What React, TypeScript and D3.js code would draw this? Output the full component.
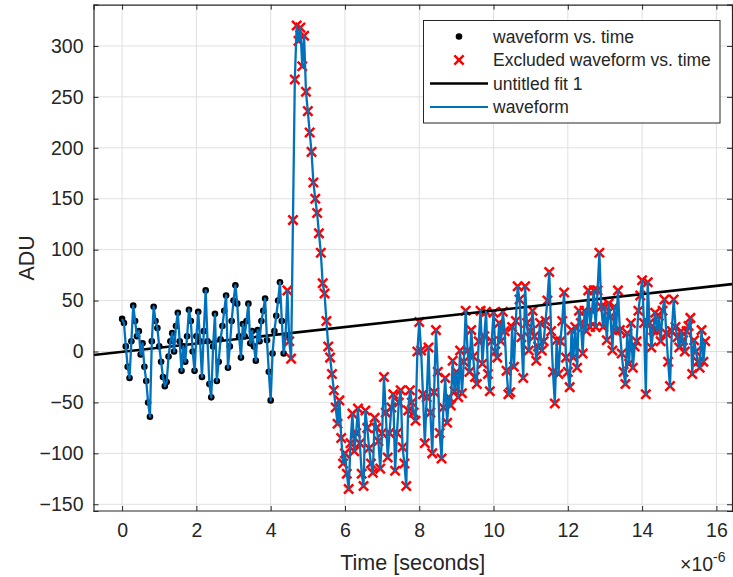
import React, { useEffect, useRef } from 'react';
import * as d3 from 'd3';

// sampled waveform, one value every samplePeriod microseconds starting at 0
const samplePeriod = 0.05;
const waveform = [
  32, 28, 5, -15, -26, 10, 45, 30, 15, 20, -3, 8, -15, -29, -50, -64, 10, 44, 30, 23,
  5, -10, -25, -34, -30, -5, 10, 18, 0, 25, 38, 10, -19, 5, -10, 15, 41, 30, 0, -19,
  15, 39, 10, -25, 20, 60, 10, -32, -45, 5, 37, -29, -10, 12, 25, 40, 55, -16, 5, 30,
  50, 65, 47, 15, -6, 27, 15, 30, 47, 8, 20, 5, -9, 21, 10, 30, 40, 52, 11, -20,
  -48, -2, 20, 35, 50, 68, 30, -2, 15, 60, 10, -7, 129, 267, 320, 305, 318, 280, 310, 255,
  236, 215, 196, 166, 150, 136, 116, 97, 67, 57, 30, 5, -6, -22, -38, -55, -71, -48, -85, -110,
  -100, -120, -135, -90, -61, -98, -80, -56, -90, -120, -132, -58, -75, -95, -110, -119, -65, -75, -88, -115,
  -80, -25, -60, -104, -80, -55, -42, -117, -80, -50, -38, -94, -110, -132, -58, -38, -50, -60, -68, 0,
  29, 1, -42, -90, -45, 4, -60, -100, -40, 21, -20, -80, -105, -55, -26, -70, -45, -53, -9, -39,
  -20, -45, 1, -41, -10, 40, 1, -20, 21, -5, -25, -32, 10, 40, -12, 15, 39, -22, -39, 10,
  38, 0, -6, 28, 10, 39, 20, -19, -42, -40, 24, -15, 30, 64, 51, 14, -26, 64, 28, 1,
  20, 40, 15, -9, 5, 28, 1, 10, 30, 50, 78, 20, -20, -51, 11, -22, 10, 30, 58, -6,
  -20, -35, 21, -6, 24, -16, 40, 28, -2, 40, 20, 60, 24, 40, 60, 24, 60, 97, 44, 24,
  44, 11, 47, 34, 1, 44, 20, 60, 21, -2, -20, -32, 18, -12, 28, -16, 5, 10, 40, 55,
  70, 28, -42, 68, 28, 4, 21, 38, 20, 35, 10, 40, 51, 18, -10, -34, 20, 51, 24, 14,
  4, 20, 11, 0, 20, 25, 33, -22, 11, 0, -10, -16, 21, -10, 10
];
const excludeFrom = 4.42; // samples at or after this time are excluded from the fit
const fitSlope = 4.05;
const fitIntercept = -0.3;

const xTicks = [0, 2, 4, 6, 8, 10, 12, 14, 16];
const yTicks = [-150, -100, -50, 0, 50, 100, 150, 200, 250, 300];
const legendLabels = ['waveform vs. time', 'Excluded waveform vs. time', 'untitled fit 1', 'waveform'];

const W = 733, H = 577;
const FONT = '"Liberation Sans", Arial, Helvetica, sans-serif';
const INK = '#262626';

function Chart() {
  const ref = useRef<SVGSVGElement>(null);

  useEffect(() => {
    const svg = d3.select(ref.current);
    svg.selectAll('*').remove();

    const left = 93.5, right = 732, top = 4.7, bottom = 511;
    const x = d3.scaleLinear().domain([-0.77, 16.42]).range([left, right]);
    const y = d3.scaleLinear().domain([-156.6, 340.5]).range([bottom, top]);

    const pts = waveform.map((v, i) => ({ t: i * samplePeriod, v }));
    const kept = pts.filter(d => d.t < excludeFrom);
    const dropped = pts.filter(d => d.t >= excludeFrom);

    svg.append('rect').attr('x', left).attr('y', top)
      .attr('width', right - left).attr('height', bottom - top).attr('fill', '#fff');

    // grid
    svg.append('g').selectAll('line').data(xTicks).enter().append('line')
      .attr('x1', d => x(d)).attr('x2', d => x(d)).attr('y1', top).attr('y2', bottom)
      .attr('stroke', '#e0e0e0').attr('stroke-width', 1);
    svg.append('g').selectAll('line').data(yTicks).enter().append('line')
      .attr('y1', d => y(d)).attr('y2', d => y(d)).attr('x1', left).attr('x2', right)
      .attr('stroke', '#e0e0e0').attr('stroke-width', 1);

    svg.append('clipPath').attr('id', 'plotclip').append('rect')
      .attr('x', left).attr('y', top).attr('width', right - left).attr('height', bottom - top);
    const plot = svg.append('g').attr('clip-path', 'url(#plotclip)');

    plot.selectAll('circle').data(kept).enter().append('circle')
      .attr('cx', d => x(d.t)).attr('cy', d => y(d.v)).attr('r', 3.3).attr('fill', '#000');

    const cross = d3.symbol().type(d3.symbolX).size(58);
    plot.append('g').selectAll('path').data(dropped).enter().append('path')
      .attr('d', cross())
      .attr('transform', d => `translate(${x(d.t)},${y(d.v)})`)
      .attr('stroke', '#ff0000').attr('stroke-width', 2.5).attr('fill', 'none');

    const fitLine = d3.line<number>().x(t => x(t)).y(t => y(fitIntercept + fitSlope * t));
    plot.append('path').datum(x.domain()).attr('d', fitLine)
      .attr('stroke', '#000').attr('stroke-width', 2.6).attr('fill', 'none');

    const wave = d3.line<{ t: number; v: number }>().x(d => x(d.t)).y(d => y(d.v));
    plot.append('path').datum(pts).attr('d', wave)
      .attr('stroke', '#0072BD').attr('stroke-width', 2.3).attr('fill', 'none')
      .attr('stroke-linejoin', 'round');

    // axes box with inward ticks
    const axisBottom = svg.append('g').attr('transform', `translate(0,${bottom})`)
      .call(d3.axisBottom(x).tickValues(xTicks).tickSize(-5).tickPadding(12));
    svg.append('g').attr('transform', `translate(0,${top})`)
      .call(d3.axisTop(x).tickValues(xTicks).tickSize(-5).tickFormat(() => ''));
    const axisLeft = svg.append('g').attr('transform', `translate(${left},0)`)
      .call(d3.axisLeft(y).tickValues(yTicks).tickSize(-5).tickPadding(10));
    svg.append('g').attr('transform', `translate(${right},0)`)
      .call(d3.axisRight(y).tickValues(yTicks).tickSize(-5).tickFormat(() => ''));
    svg.selectAll('.domain').attr('stroke', INK).attr('stroke-width', 1.2);
    svg.selectAll('.tick line').attr('stroke', INK);
    [axisBottom, axisLeft].forEach(a => a.selectAll('text')
      .attr('font-family', FONT).attr('font-size', 19.5).attr('fill', INK));
    axisBottom.selectAll('path.domain').attr('d', `M${left},0H${right}`);

    svg.append('text').attr('x', (left + right) / 2).attr('y', 570)
      .attr('text-anchor', 'middle').attr('font-family', FONT).attr('font-size', 21.5)
      .attr('fill', INK).text('Time [seconds]');
    svg.append('text').attr('transform', `translate(34,${(top + bottom) / 2}) rotate(-90)`)
      .attr('text-anchor', 'middle').attr('font-family', FONT).attr('font-size', 21.5)
      .attr('fill', INK).text('ADU');
    const exp = svg.append('text').attr('x', 680).attr('y', 571)
      .attr('font-family', FONT).attr('font-size', 19.5).attr('fill', INK);
    exp.append('tspan').text('×10');
    exp.append('tspan').attr('dy', -9).attr('font-size', 14).text('-6');

    // legend
    const lg = svg.append('g');
    lg.append('rect').attr('x', 423.5).attr('y', 20.5).attr('width', 296.5).attr('height', 102.5)
      .attr('fill', '#fff').attr('stroke', INK).attr('stroke-width', 1);
    const rowY = (i: number) => 36.5 + i * 23.5;
    legendLabels.forEach((label, i) => {
      lg.append('text').attr('x', 493).attr('y', rowY(i)).attr('dy', '0.35em')
        .attr('font-family', FONT).attr('font-size', 17.5).attr('fill', INK).text(label);
    });
    lg.append('circle').attr('cx', 459).attr('cy', rowY(0)).attr('r', 3.3).attr('fill', '#000');
    lg.append('path').attr('d', cross()).attr('transform', `translate(459,${rowY(1)})`)
      .attr('stroke', '#ff0000').attr('stroke-width', 2.5).attr('fill', 'none');
    lg.append('line').attr('x1', 430).attr('x2', 488).attr('y1', rowY(2)).attr('y2', rowY(2))
      .attr('stroke', '#000').attr('stroke-width', 2.6);
    lg.append('line').attr('x1', 430).attr('x2', 488).attr('y1', rowY(3)).attr('y2', rowY(3))
      .attr('stroke', '#0072BD').attr('stroke-width', 2);
  }, []);

  return <svg ref={ref} width={W} height={H} style={{ position: 'absolute', left: 0, top: 0, background: '#fff' }} />;
}

export default function App() {
  return <Chart />;
}
